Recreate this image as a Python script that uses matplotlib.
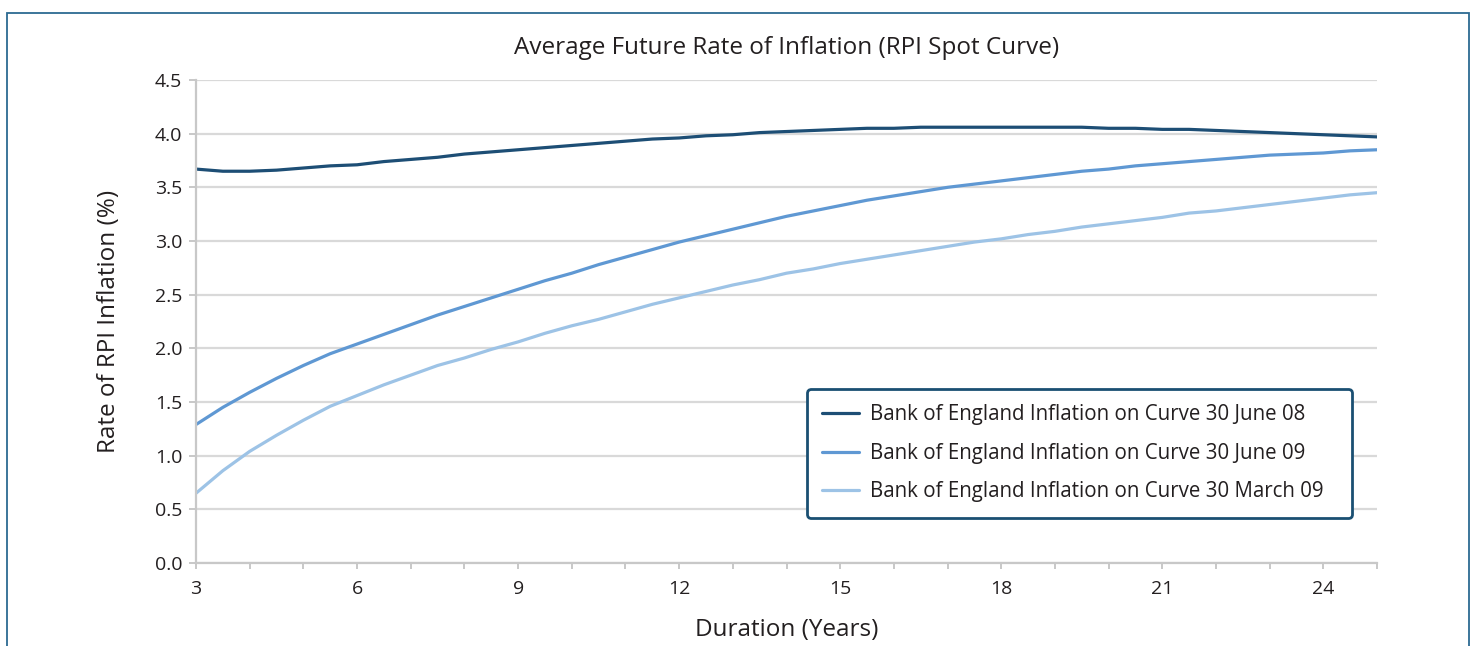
import matplotlib
matplotlib.use("Agg")
import matplotlib.pyplot as plt
from matplotlib.patches import Rectangle
import numpy as np

plt.rcParams['font.family'] = ['Open Sans', 'DejaVu Sans']

duration = [3.0, 3.5, 4.0, 4.5, 5.0, 5.5, 6.0, 6.5, 7.0, 7.5, 8.0, 8.5, 9.0, 9.5,
            10.0, 10.5, 11.0, 11.5, 12.0, 12.5, 13.0, 13.5, 14.0, 14.5, 15.0, 15.5,
            16.0, 16.5, 17.0, 17.5, 18.0, 18.5, 19.0, 19.5, 20.0, 20.5, 21.0, 21.5,
            22.0, 22.5, 23.0, 23.5, 24.0, 24.5, 25.0]

june08 = [3.67, 3.65, 3.65, 3.66, 3.68, 3.70, 3.71, 3.74, 3.76, 3.78, 3.81, 3.83,
          3.85, 3.87, 3.89, 3.91, 3.93, 3.95, 3.96, 3.98, 3.99, 4.01, 4.02, 4.03,
          4.04, 4.05, 4.05, 4.06, 4.06, 4.06, 4.06, 4.06, 4.06, 4.06, 4.05, 4.05,
          4.04, 4.04, 4.03, 4.02, 4.01, 4.00, 3.99, 3.98, 3.97]

june09 = [1.29, 1.45, 1.59, 1.72, 1.84, 1.95, 2.04, 2.13, 2.22, 2.31, 2.39, 2.47,
          2.55, 2.63, 2.70, 2.78, 2.85, 2.92, 2.99, 3.05, 3.11, 3.17, 3.23, 3.28,
          3.33, 3.38, 3.42, 3.46, 3.50, 3.53, 3.56, 3.59, 3.62, 3.65, 3.67, 3.70,
          3.72, 3.74, 3.76, 3.78, 3.80, 3.81, 3.82, 3.84, 3.85]

march09 = [0.65, 0.86, 1.04, 1.19, 1.33, 1.46, 1.56, 1.66, 1.75, 1.84, 1.91, 1.99,
           2.06, 2.14, 2.21, 2.27, 2.34, 2.41, 2.47, 2.53, 2.59, 2.64, 2.70, 2.74,
           2.79, 2.83, 2.87, 2.91, 2.95, 2.99, 3.02, 3.06, 3.09, 3.13, 3.16, 3.19,
           3.22, 3.26, 3.28, 3.31, 3.34, 3.37, 3.40, 3.43, 3.45]

labels = ["Bank of England Inflation on Curve 30 June 08",
          "Bank of England Inflation on Curve 30 June 09",
          "Bank of England Inflation on Curve 30 March 09"]
colors = ["#1d4e75", "#5f98d3", "#9dc3e6"]

x_major = [3, 6, 9, 12, 15, 18, 21, 24]
y_ticks = [0.0, 0.5, 1.0, 1.5, 2.0, 2.5, 3.0, 3.5, 4.0, 4.5]

TXT = "#231f20"
W, H = 1477, 646
fig = plt.figure(figsize=(W / 100, H / 100), dpi=100)
fig.patch.set_facecolor("white")

# outer frame
fig.patches.append(Rectangle((7 / W, -0.05), (1469 - 7) / W, 1.05 - 13 / H,
                             transform=fig.transFigure, fill=False,
                             edgecolor="#2c6a92", linewidth=1.3))

AX_L, AX_R, AX_T, AX_B = 196, 1377, 80, 563
ax = fig.add_axes([AX_L / W, 1 - AX_B / H, (AX_R - AX_L) / W, (AX_B - AX_T) / H])

for vals, lab, col in zip([june08, june09, march09], labels, colors):
    ax.plot(duration, vals, color=col, linewidth=2.3, label=lab,
            solid_capstyle="round", solid_joinstyle="round")

ax.set_xlim(3, 25)
ax.set_ylim(0, 4.5)
ax.set_xticks(x_major)
ax.set_xticks(np.arange(3, 26, 1), minor=True)
ax.set_yticks(y_ticks)
ax.set_yticklabels([f"{v:.1f}" for v in y_ticks])

ax.grid(axis="y", color="#d9d9d9", linewidth=1.6)
ax.set_axisbelow(True)
for s in ["top", "right"]:
    ax.spines[s].set_visible(False)
for s in ["left", "bottom"]:
    ax.spines[s].set_color("#c8c8c8")
    ax.spines[s].set_linewidth(1.6)

ax.tick_params(axis="x", which="both", length=4, width=1.4, color="#c8c8c8",
               labelsize=14, pad=8, labelcolor=TXT)
ax.tick_params(axis="y", length=5, width=1.4, color="#c8c8c8",
               labelsize=14, pad=5, labelcolor=TXT)

ax.set_xlabel("Duration (Years)", fontsize=17.5, color=TXT, labelpad=15)
ax.set_ylabel("Rate of RPI Inflation (%)", fontsize=17.5, color=TXT, labelpad=24)
ax.set_title("Average Future Rate of Inflation (RPI Spot Curve)", fontsize=17.5,
             color=TXT, pad=19)

lx0 = (807 - AX_L) / (AX_R - AX_L)
lw = (1352 - 807) / (AX_R - AX_L)
ly1 = (AX_B - 389) / (AX_B - AX_T)
leg = ax.legend(loc="upper left", bbox_to_anchor=(lx0, ly1 - 0.3, lw, 0.3),
                mode="expand",
                fontsize=14.8, frameon=True, fancybox=True, handlelength=1.8,
                handletextpad=0.5, labelspacing=0.85, borderpad=0.75,
                borderaxespad=0)
for t in leg.get_texts():
    t.set_color(TXT)
frame = leg.get_frame()
frame.set_edgecolor("#1a4f72")
frame.set_linewidth(2.0)
frame.set_alpha(1)
frame.set_boxstyle("round,pad=0,rounding_size=0.2")

fig.savefig("out.png", dpi=100, facecolor="white")
